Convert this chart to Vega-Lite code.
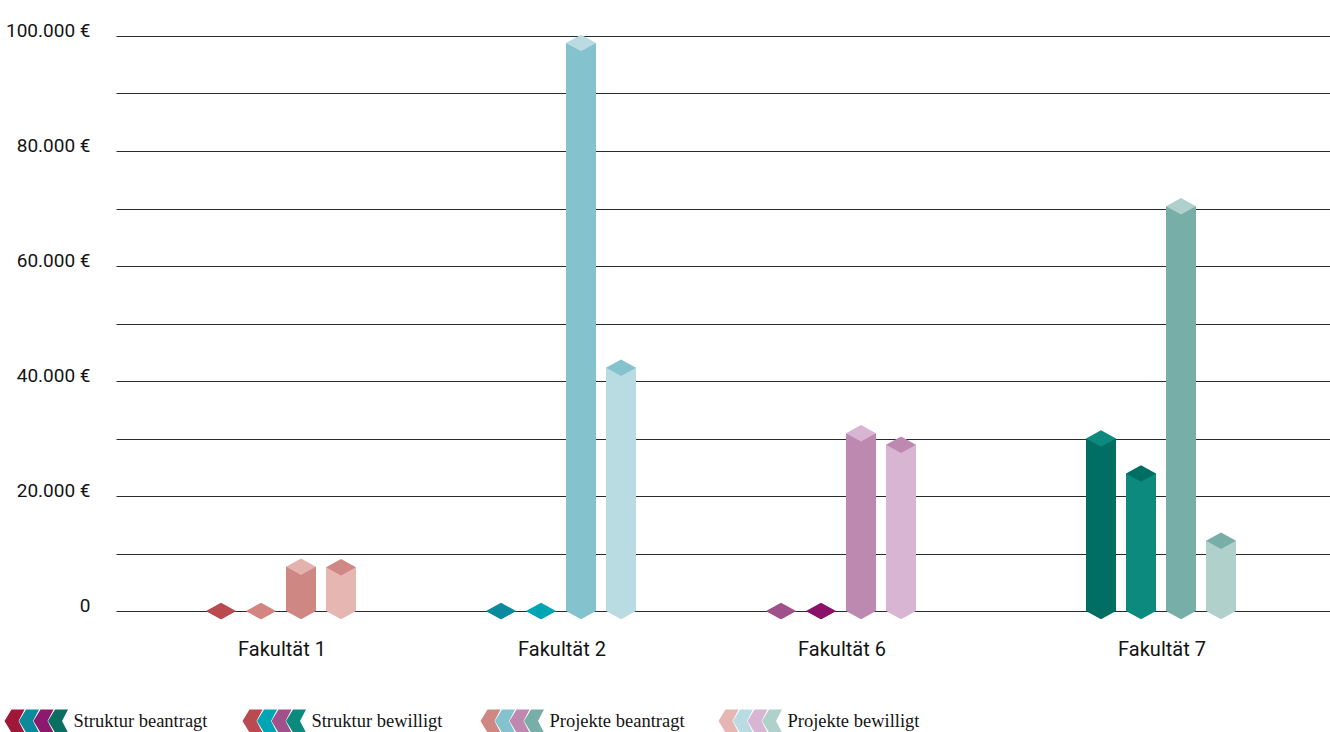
{
  "$schema": "https://vega.github.io/schema/vega-lite/v6.json",
  "padding": {"left": 4, "top": 21, "right": 0, "bottom": 0},
  "autosize": {"type": "pad"},
  "background": "white",
  "config": {"view": {"stroke": null}},
  "columns": 1,
  "spacing": 50,
  "concat": [
    {
      "width": 1214,
      "height": 575,
      "data": {"values": [
        {"fak": "Fakultät 1", "serie": "Struktur beantragt", "wert": 0},
        {"fak": "Fakultät 1", "serie": "Struktur bewilligt", "wert": 0},
        {"fak": "Fakultät 1", "serie": "Projekte beantragt", "wert": 7700},
        {"fak": "Fakultät 1", "serie": "Projekte bewilligt", "wert": 7600},
        {"fak": "Fakultät 2", "serie": "Struktur beantragt", "wert": 0},
        {"fak": "Fakultät 2", "serie": "Struktur bewilligt", "wert": 0},
        {"fak": "Fakultät 2", "serie": "Projekte beantragt", "wert": 98800},
        {"fak": "Fakultät 2", "serie": "Projekte bewilligt", "wert": 42300},
        {"fak": "Fakultät 6", "serie": "Struktur beantragt", "wert": 0},
        {"fak": "Fakultät 6", "serie": "Struktur bewilligt", "wert": 0},
        {"fak": "Fakultät 6", "serie": "Projekte beantragt", "wert": 30900},
        {"fak": "Fakultät 6", "serie": "Projekte bewilligt", "wert": 28900},
        {"fak": "Fakultät 7", "serie": "Struktur beantragt", "wert": 30000},
        {"fak": "Fakultät 7", "serie": "Struktur bewilligt", "wert": 23900},
        {"fak": "Fakultät 7", "serie": "Projekte beantragt", "wert": 70400},
        {"fak": "Fakultät 7", "serie": "Projekte bewilligt", "wert": 12200}
      ]},
      "transform": [{"calculate": "datum.fak + '|' + datum.serie", "as": "key"}],
      "encoding": {
        "x": {
          "field": "key", "type": "nominal",
          "scale": {
            "type": "band",
            "domain": ["lead 1", "lead 2",
                       "Fakultät 1|Struktur beantragt", "Fakultät 1|Struktur bewilligt", "Fakultät 1|Projekte beantragt", "Fakultät 1|Projekte bewilligt",
                       "gap a1", "gap a2", "gap a3",
                       "Fakultät 2|Struktur beantragt", "Fakultät 2|Struktur bewilligt", "Fakultät 2|Projekte beantragt", "Fakultät 2|Projekte bewilligt",
                       "gap b1", "gap b2", "gap b3",
                       "Fakultät 6|Struktur beantragt", "Fakultät 6|Struktur bewilligt", "Fakultät 6|Projekte beantragt", "Fakultät 6|Projekte bewilligt",
                       "gap c1", "gap c2", "gap c3", "gap c4",
                       "Fakultät 7|Struktur beantragt", "Fakultät 7|Struktur bewilligt", "Fakultät 7|Projekte beantragt", "Fakultät 7|Projekte bewilligt",
                       "trail 1", "trail 2"],
            "paddingInner": 0.25, "paddingOuter": 0.3, "align": 0.417
          },
          "axis": {
            "title": null, "labelAngle": 0, "domain": false, "ticks": false, "grid": false,
            "labelExpr": "indexof(datum.value, 'Struktur bewilligt') >= 0 ? split(datum.value, '|')[0] : ''",
            "labelOffset": 21, "labelOverlap": false, "labelBound": false,
            "labelPadding": 28, "labelBaseline": "top",
            "labelFont": "Roboto", "labelFontSize": 20, "labelColor": "#141414"
          }
        }
      },
      "layer": [
        {
          "mark": {"type": "bar", "strokeWidth": 0},
          "encoding": {
            "y": {
              "field": "wert", "type": "quantitative",
              "scale": {"domain": [0, 100000]},
              "axis": {
                "title": null,
                "values": [0, 10000, 20000, 30000, 40000, 50000, 60000, 70000, 80000, 90000, 100000],
                "grid": true, "gridColor": "#2a2a2a", "gridWidth": 1,
                "domain": false, "ticks": false,
                "labelExpr": "datum.value % 20000 == 0 ? (datum.value == 0 ? '0' : replace(format(datum.value, ',.0f'), ',', '.') + ' €') : ''",
                "labelBaseline": "alphabetic", "labelPadding": 26,
                "labelFont": "Roboto", "labelFontSize": 19, "labelColor": "#141414"
              }
            },
            "color": {
              "field": "key", "type": "nominal", "legend": null,
              "scale": {
                "domain": ["Fakultät 1|Struktur beantragt", "Fakultät 1|Struktur bewilligt", "Fakultät 1|Projekte beantragt", "Fakultät 1|Projekte bewilligt",
                           "Fakultät 2|Struktur beantragt", "Fakultät 2|Struktur bewilligt", "Fakultät 2|Projekte beantragt", "Fakultät 2|Projekte bewilligt",
                           "Fakultät 6|Struktur beantragt", "Fakultät 6|Struktur bewilligt", "Fakultät 6|Projekte beantragt", "Fakultät 6|Projekte bewilligt",
                           "Fakultät 7|Struktur beantragt", "Fakultät 7|Struktur bewilligt", "Fakultät 7|Projekte beantragt", "Fakultät 7|Projekte bewilligt"],
                "range": ["#b84a50", "#d4857f", "#cf8784", "#e5b6b2",
                          "#0a8a9c", "#00a5b5", "#84c3cd", "#b9dce2",
                          "#a0508a", "#8b126a", "#bd89b0", "#d8b6d3",
                          "#006e62", "#0c8a7e", "#78aea8", "#b0d0cb"]
              }
            }
          }
        },
        {
          "mark": {"type": "point", "shape": "M-1,0L0,0.55L1,0Z", "size": 900, "filled": true, "opacity": 1, "strokeWidth": 0},
          "encoding": {
            "y": {"datum": 0, "type": "quantitative"},
            "color": {
              "field": "key", "type": "nominal", "legend": null,
              "scale": {
                "domain": ["Fakultät 1|Struktur beantragt", "Fakultät 1|Struktur bewilligt", "Fakultät 1|Projekte beantragt", "Fakultät 1|Projekte bewilligt",
                           "Fakultät 2|Struktur beantragt", "Fakultät 2|Struktur bewilligt", "Fakultät 2|Projekte beantragt", "Fakultät 2|Projekte bewilligt",
                           "Fakultät 6|Struktur beantragt", "Fakultät 6|Struktur bewilligt", "Fakultät 6|Projekte beantragt", "Fakultät 6|Projekte bewilligt",
                           "Fakultät 7|Struktur beantragt", "Fakultät 7|Struktur bewilligt", "Fakultät 7|Projekte beantragt", "Fakultät 7|Projekte bewilligt"],
                "range": ["#b84a50", "#d4857f", "#cf8784", "#e5b6b2",
                          "#0a8a9c", "#00a5b5", "#84c3cd", "#b9dce2",
                          "#a0508a", "#8b126a", "#bd89b0", "#d8b6d3",
                          "#006e62", "#0c8a7e", "#78aea8", "#b0d0cb"]
              }
            }
          }
        },
        {
          "mark": {"type": "point", "shape": "M-1,0L0,-0.55L1,0L0,0.55Z", "size": 900, "filled": true, "opacity": 1, "strokeWidth": 0},
          "encoding": {
            "y": {"field": "wert", "type": "quantitative"},
            "color": {
              "field": "key", "type": "nominal", "legend": null,
              "scale": {
                "domain": ["Fakultät 1|Struktur beantragt", "Fakultät 1|Struktur bewilligt", "Fakultät 1|Projekte beantragt", "Fakultät 1|Projekte bewilligt",
                           "Fakultät 2|Struktur beantragt", "Fakultät 2|Struktur bewilligt", "Fakultät 2|Projekte beantragt", "Fakultät 2|Projekte bewilligt",
                           "Fakultät 6|Struktur beantragt", "Fakultät 6|Struktur bewilligt", "Fakultät 6|Projekte beantragt", "Fakultät 6|Projekte bewilligt",
                           "Fakultät 7|Struktur beantragt", "Fakultät 7|Struktur bewilligt", "Fakultät 7|Projekte beantragt", "Fakultät 7|Projekte bewilligt"],
                "range": ["#b84a50", "#d4857f", "#e3b2ae", "#d08884",
                          "#0a8a9c", "#00a5b5", "#b9dce2", "#84c3cd",
                          "#a0508a", "#8b126a", "#d8b6d3", "#bd89b0",
                          "#0c8a7e", "#006e62", "#b0d0cb", "#78aea8"]
              }
            }
          }
        }
      ],
      "resolve": {"scale": {"color": "independent"}}
    },
    {
      "width": 952,
      "height": 24,
      "data": {"values": [
        {"serie": "Struktur beantragt", "fak": "Fakultät 1"},
        {"serie": "Struktur beantragt", "fak": "Fakultät 2"},
        {"serie": "Struktur beantragt", "fak": "Fakultät 6"},
        {"serie": "Struktur beantragt", "fak": "Fakultät 7"},
        {"serie": "Struktur bewilligt", "fak": "Fakultät 1"},
        {"serie": "Struktur bewilligt", "fak": "Fakultät 2"},
        {"serie": "Struktur bewilligt", "fak": "Fakultät 6"},
        {"serie": "Struktur bewilligt", "fak": "Fakultät 7"},
        {"serie": "Projekte beantragt", "fak": "Fakultät 1"},
        {"serie": "Projekte beantragt", "fak": "Fakultät 2"},
        {"serie": "Projekte beantragt", "fak": "Fakultät 6"},
        {"serie": "Projekte beantragt", "fak": "Fakultät 7"},
        {"serie": "Projekte bewilligt", "fak": "Fakultät 1"},
        {"serie": "Projekte bewilligt", "fak": "Fakultät 2"},
        {"serie": "Projekte bewilligt", "fak": "Fakultät 6"},
        {"serie": "Projekte bewilligt", "fak": "Fakultät 7"}
      ]},
      "transform": [{"calculate": "datum.serie + '|' + datum.fak", "as": "key"}],
      "encoding": {
        "x": {
          "field": "serie", "type": "nominal",
          "sort": ["Struktur beantragt", "Struktur bewilligt", "Projekte beantragt", "Projekte bewilligt"],
          "scale": {"type": "band", "paddingInner": 0, "paddingOuter": 0, "range": [-108.5, 843.5]},
          "axis": null
        },
        "color": {
          "field": "key", "type": "nominal", "legend": null,
          "scale": {
            "domain": ["Struktur beantragt|Fakultät 1", "Struktur beantragt|Fakultät 2", "Struktur beantragt|Fakultät 6", "Struktur beantragt|Fakultät 7",
                       "Struktur bewilligt|Fakultät 1", "Struktur bewilligt|Fakultät 2", "Struktur bewilligt|Fakultät 6", "Struktur bewilligt|Fakultät 7",
                       "Projekte beantragt|Fakultät 1", "Projekte beantragt|Fakultät 2", "Projekte beantragt|Fakultät 6", "Projekte beantragt|Fakultät 7",
                       "Projekte bewilligt|Fakultät 1", "Projekte bewilligt|Fakultät 2", "Projekte bewilligt|Fakultät 6", "Projekte bewilligt|Fakultät 7"],
            "range": ["#a0173a", "#0b8a9c", "#8b1a6e", "#0a6e60",
                      "#b84a50", "#00a5b5", "#a0508a", "#0c8a7e",
                      "#cf8784", "#84c3cd", "#bd89b0", "#78aea8",
                      "#e5b6b2", "#b9dce2", "#d8b6d3", "#b0d0cb"]
          }
        }
      },
      "layer": [
        {
          "transform": [{"filter": "datum.fak == 'Fakultät 1'"}],
          "mark": {"type": "point", "shape": "M-0.87,0L-0.26,-1L0.87,-1L0.35,0L0.87,1L-0.26,1Z", "size": 529, "filled": true, "opacity": 1, "strokeWidth": 0},
          "encoding": {"x": {"field": "serie", "type": "nominal", "sort": ["Struktur beantragt", "Struktur bewilligt", "Projekte beantragt", "Projekte bewilligt"], "bandPosition": 0.0294}}
        },
        {
          "transform": [{"filter": "datum.fak == 'Fakultät 2'"}],
          "mark": {"type": "point", "shape": "M-0.87,0L-0.26,-1L0.87,-1L0.35,0L0.87,1L-0.26,1Z", "size": 529, "filled": true, "opacity": 1, "strokeWidth": 0},
          "encoding": {"x": {"field": "serie", "type": "nominal", "sort": ["Struktur beantragt", "Struktur bewilligt", "Projekte beantragt", "Projekte bewilligt"], "bandPosition": 0.0903}}
        },
        {
          "transform": [{"filter": "datum.fak == 'Fakultät 6'"}],
          "mark": {"type": "point", "shape": "M-0.87,0L-0.26,-1L0.87,-1L0.35,0L0.87,1L-0.26,1Z", "size": 529, "filled": true, "opacity": 1, "strokeWidth": 0},
          "encoding": {"x": {"field": "serie", "type": "nominal", "sort": ["Struktur beantragt", "Struktur bewilligt", "Projekte beantragt", "Projekte bewilligt"], "bandPosition": 0.1513}}
        },
        {
          "transform": [{"filter": "datum.fak == 'Fakultät 7'"}],
          "mark": {"type": "point", "shape": "M-0.87,0L-0.26,-1L0.87,-1L0.35,0L0.87,1L-0.26,1Z", "size": 529, "filled": true, "opacity": 1, "strokeWidth": 0},
          "encoding": {"x": {"field": "serie", "type": "nominal", "sort": ["Struktur beantragt", "Struktur bewilligt", "Projekte beantragt", "Projekte bewilligt"], "bandPosition": 0.2122}}
        },
        {
          "transform": [{"filter": "datum.fak == 'Fakultät 1'"}],
          "mark": {"type": "text", "align": "left", "baseline": "middle", "font": "Liberation Serif", "fontSize": 18.5, "color": "#141414"},
          "encoding": {
            "x": {"field": "serie", "type": "nominal", "sort": ["Struktur beantragt", "Struktur bewilligt", "Projekte beantragt", "Projekte bewilligt"], "bandPosition": 0.277},
            "text": {"field": "serie"},
            "color": {"value": "#141414"}
          }
        }
      ]
    }
  ]
}
